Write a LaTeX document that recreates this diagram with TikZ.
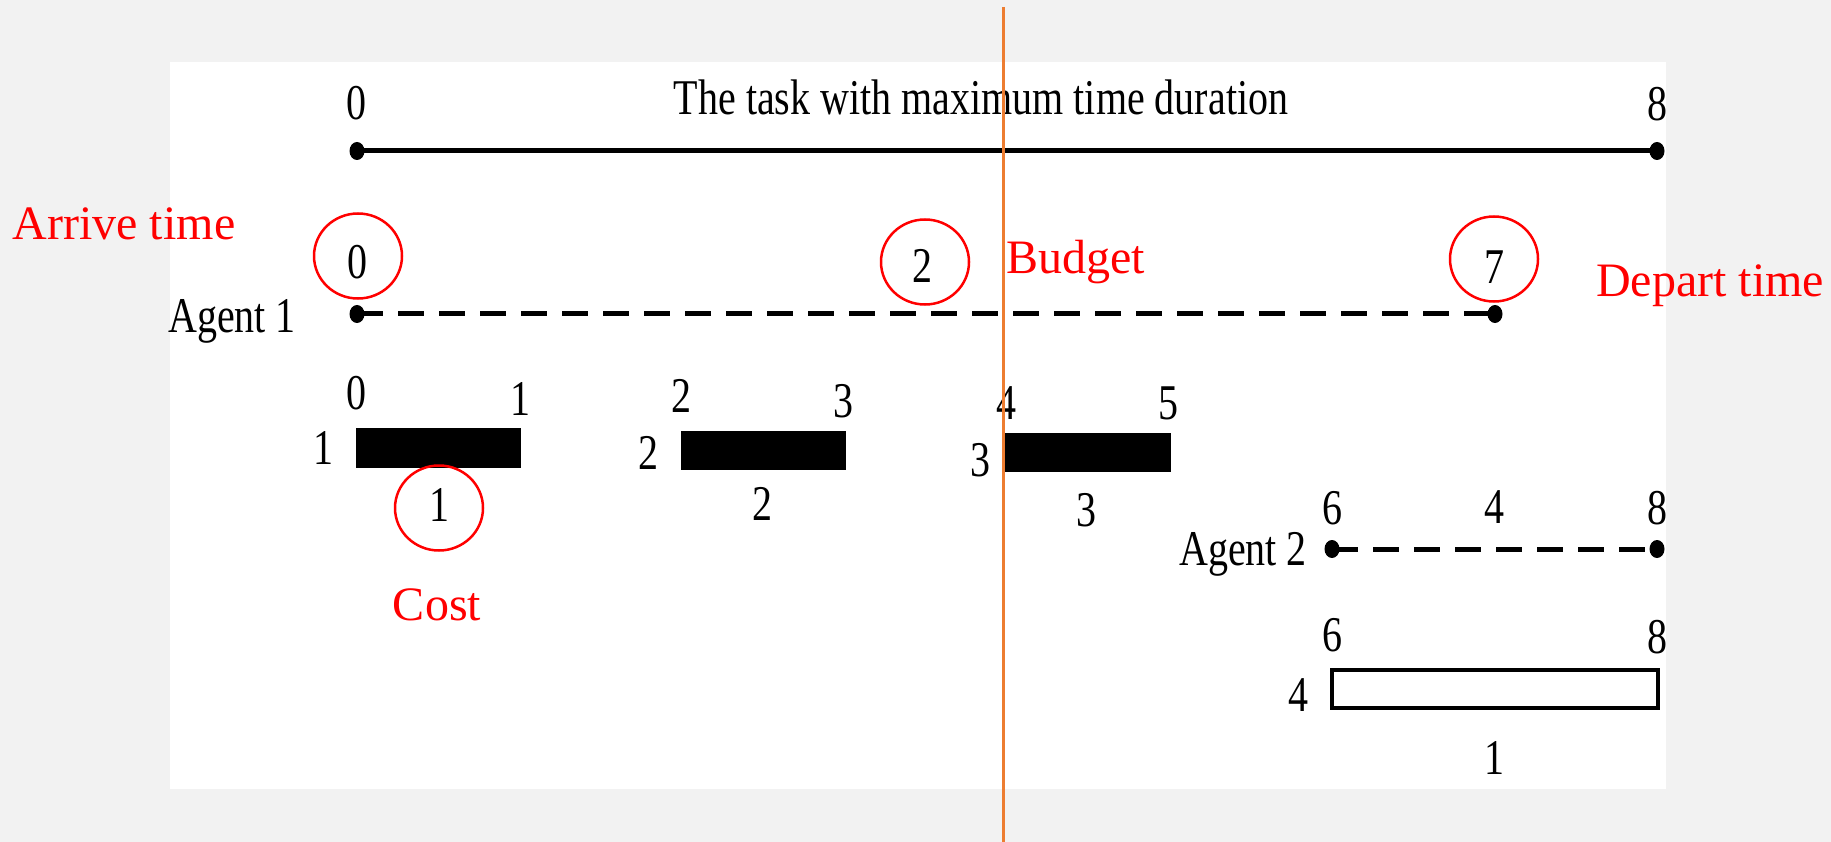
\documentclass[tikz,border=0pt]{standalone}
\usepackage{fontspec}
\setmainfont{Liberation Serif}
\newfontfamily\narrowserif[FakeStretch=0.8]{Liberation Serif}
\usetikzlibrary{shapes.geometric}
\definecolor{pagegray}{HTML}{F2F2F2}
\definecolor{budgetorange}{HTML}{ED7D31}
\definecolor{notered}{HTML}{FF0000}
\newcommand\figblack{\narrowserif\fontsize{50}{60}\selectfont}
\newcommand\figred{\fontsize{48}{58}\selectfont}
\tikzset{
  num/.style={font=\figblack, inner sep=0pt, text=black},
  rednote/.style={font=\figred, inner sep=0pt, text=notered},
  tdot/.style={ellipse, fill=black, inner sep=0pt, minimum width=15pt, minimum height=18pt},
  ring/.style={ellipse, draw=notered, line width=2.5pt, inner sep=0pt, minimum width=88pt, minimum height=85pt},
  solidline/.style={line width=5pt},
  dashline/.style={line width=5pt, dash pattern=on 26pt off 15pt},
  taskbar/.style={rectangle, fill=black, inner sep=0pt},
  openbar/.style={rectangle, draw=black, fill=white, line width=3.5pt, inner sep=0pt},
}
\begin{document}
\begin{tikzpicture}[x=1pt, y=-1pt]
  % canvas and figure panel
  \fill[pagegray] (0,0) rectangle (1831,842);
  \fill[white] (170,62) rectangle (1666,789);
  \useasboundingbox (0,0) rectangle (1831,842);

  % task with maximum duration
  \node[anchor=base, num] (title) at (981,115) {The task with maximum time duration};
  \node[num] (tz) at (356,103) {0};
  \node[num] (te) at (1657,104) {8};
  \node[tdot] (t0) at (357,151) {};
  \node[tdot] (t8) at (1657,151) {};
  \draw[solidline] (t0.center) -- (t8.center);

  % agent 1
  \node[anchor=base, num] (ag1) at (232,332) {Agent 1};
  \node[tdot] (a0) at (357,314) {};
  \node[tdot] (a7) at (1495,314) {};
  \draw[dashline] (a0.center) -- (a7.center);
  \node[num] (a1arr) at (357,262) {0};
  \node[num] (a1bud) at (922,266) {2};
  \node[num] (a1dep) at (1494,267) {7};

  % tasks 1--3
  \node[taskbar, minimum width=165pt, minimum height=40pt] (b1) at (438.5,448) {};
  \node[taskbar, minimum width=165pt, minimum height=39pt] (b2) at (763.5,450.5) {};
  \node[taskbar, minimum width=167pt, minimum height=39pt] (b3) at (1087.5,452.5) {};
  \node[num] (b1s) at (356,393) {0};
  \node[num] (b1e) at (520,399) {1};
  \node[num] (b2s) at (681,396) {2};
  \node[num] (b2e) at (843,401) {3};
  \node[num] (b3s) at (1006,403) {4};
  \node[num] (b3e) at (1168,403) {5};
  \node[num] (b1id) at (323,448) {1};
  \node[num] (b2id) at (648,453) {2};
  \node[num] (b3id) at (980,460) {3};
  \node[num] (b1c) at (439,505) {1};
  \node[num] (b2c) at (762,504) {2};
  \node[num] (b3c) at (1086,510) {3};

  % agent 2
  \node[anchor=base, num] (ag2) at (1243,565) {Agent 2};
  \node[tdot] (c6) at (1332,549) {};
  \node[tdot] (c8) at (1657,549) {};
  \draw[dashline] (c6.center) -- (c8.center);
  \node[num] (c6l) at (1332,508) {6};
  \node[num] (c4l) at (1494,507) {4};
  \node[num] (c8l) at (1657,508) {8};

  % task 4
  \node[openbar, minimum width=326pt, minimum height=38pt] (b4) at (1495,689) {};
  \node[num] (b4s) at (1332,635) {6};
  \node[num] (b4e) at (1657,637) {8};
  \node[num] (b4id) at (1298,695) {4};
  \node[num] (b4c) at (1494,758) {1};

  % annotations
  \node[ring] (r0) at (358,256) {};
  \node[ring] (r2) at (925,262) {};
  \node[ring] (r7) at (1494,259) {};
  \node[ring] (rc) at (439,508) {};
  \node[anchor=base, rednote] (arrive) at (124,240) {Arrive time};
  \node[anchor=base west, rednote] (budget) at (1006,274) {Budget};
  \node[anchor=base, rednote] (depart) at (1710,297) {Depart time};
  \node[anchor=base, rednote] (cost) at (437,620) {Cost};

  % budget line
  \coordinate (budtop) at (1003,7);
  \coordinate (budbot) at (1003,842);
  \draw[budgetorange, line width=3pt] (budtop) -- (budbot);
\end{tikzpicture}
\end{document}
